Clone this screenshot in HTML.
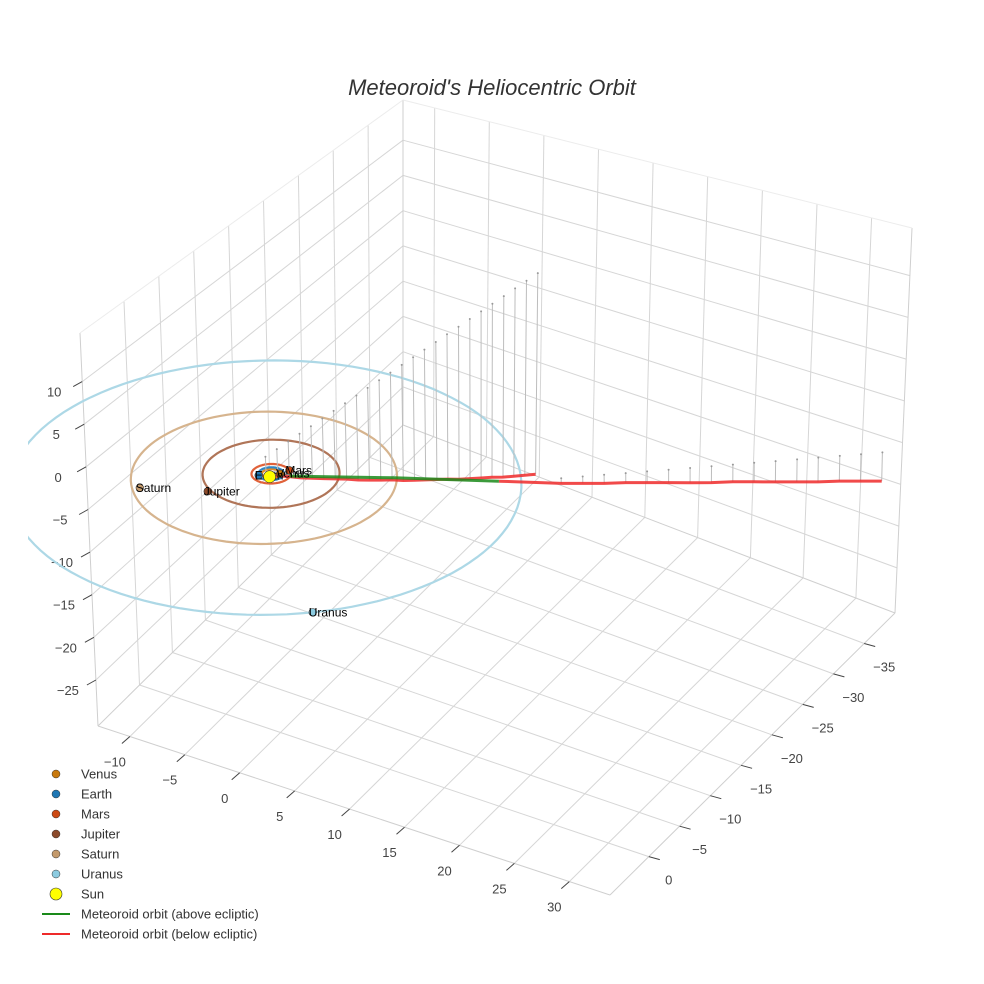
<!DOCTYPE html>
<html><head><meta charset="utf-8">
<style>
html,body{margin:0;padding:0;background:#fff;}
svg{display:block;font-family:"Liberation Sans",sans-serif;}
</style></head>
<body>
<svg id="chart" width="984" height="984" viewBox="0 0 984 984">
  <defs><clipPath id="sceneClip"><rect x="28" y="60" width="950" height="900"/></clipPath></defs>
  <text x="492" y="95" text-anchor="middle" font-size="22" font-style="italic" fill="#333">Meteoroid's Heliocentric Orbit</text>
  <g id="grid"></g>
  <g id="axes"></g>
  <g id="plot" clip-path="url(#sceneClip)"></g>
  <g id="legend"></g>
</svg>
<script>
// ---- axis ranges / ticks ----
const xRange = [-12.9, 33.7];
const yRange = [-40, 6.3];
const zRange = [-30.4, 15.7];
const xTicks = [-10, -5, 0, 5, 10, 15, 20, 25, 30];
const yTicks = [-35, -30, -25, -20, -15, -10, -5, 0];
const zTicks = [-25, -20, -15, -10, -5, 0, 5, 10];

// ---- planets ----
const planetNames = ["Venus", "Earth", "Mars", "Jupiter", "Saturn", "Uranus"];
const planetColors = ["#c8790e", "#1f77b4", "#cc4a14", "#8b4a2b", "#c49a6c", "#8ccbe0"];
const orbitColors = ["#e08a2a", "#2f86c4", "#e0623a", "#b07558", "#d6b48e", "#add8e6"];
const orbitRadii = [0.72, 1.0, 1.52, 5.3, 10.3, 19.8];
const orbitCenterX = [0, 0, 0, 0, -0.14, 0.8];
const orbitCenterY = [0, 0, 0, 0, 0.8, 2.0];
const planetX = [0.6, -0.7, 0.95, -2.8, -7.6, 14.0];
const planetY = [-0.35, 0.7, -1.15, 4.8, 7.0, 16.75];
const planetZ = [0, 0, 0, 0, 0, 0];

// ---- meteoroid (below ecliptic, far branch with drop lines) ----
const farX = [-1.77,-1.64,-1.50,-1.37,-1.23,-1.10,-0.96,-0.83,-0.69,-0.56,-0.42,-0.29,-0.16,-0.02,0.11,0.25,0.38,0.52,0.65,0.79,0.92,1.06,1.19,1.33,1.46];
const farY = [-2.03,-3.49,-4.94,-6.40,-7.86,-9.32,-10.77,-12.23,-13.69,-15.14,-16.60,-18.06,-19.52,-20.97,-22.43,-23.89,-25.34,-26.80,-28.26,-29.71,-31.17,-32.63,-34.08,-35.54,-37.00];
const farZ = [-2.2,-3.2,-4.2,-5.3,-6.3,-7.3,-8.3,-9.3,-10.4,-11.4,-12.4,-13.4,-14.5,-15.5,-16.5,-17.5,-18.5,-19.6,-20.6,-21.6,-22.6,-23.7,-24.7,-25.7,-26.7];
// ---- meteoroid near-ecliptic branch ----
const nearX = [19.86,21.18,22.49,23.81,25.12,26.44,27.76,29.07,30.39,31.70,33.02,34.34,35.65,36.97,38.28,39.60];
const nearY = [-10.72,-11.79,-12.85,-13.92,-14.98,-16.05,-17.11,-18.18,-19.24,-20.31,-21.37,-22.44,-23.50,-24.57,-25.63,-26.70];
const nearZ = [-0.6,-0.8,-1.0,-1.1,-1.3,-1.5,-1.7,-1.9,-2.0,-2.2,-2.4,-2.6,-2.8,-2.9,-3.1,-3.3];
// above-ecliptic segment
const aboveX = [1.5, 8.7, 15.9];
const aboveY = [-0.3, -4.1, -7.9];
const aboveZ = [0.1, 0.15, 0.0];

const NS = "http://www.w3.org/2000/svg";
const Fl = {B:[403,425], R:[895,613], L:[98,726], F:[610,895]};
const Tp = {B:[403,100], R:[912,228], L:[80,333], F:[595,475]};
function bil(Q, tx, s) {
  const wB=(1-tx)*(1-s), wR=tx*(1-s), wL=(1-tx)*s, wF=tx*s;
  return [Q.B[0]*wB+Q.R[0]*wR+Q.L[0]*wL+Q.F[0]*wF, Q.B[1]*wB+Q.R[1]*wR+Q.L[1]*wL+Q.F[1]*wF];
}
function P(x, y, z) {
  const tx=(x-xRange[0])/(xRange[1]-xRange[0]);
  const s=(y-yRange[0])/(yRange[1]-yRange[0]);
  const tz=(z-zRange[0])/(zRange[1]-zRange[0]);
  const a=bil(Fl,tx,s), b=bil(Tp,tx,s);
  return [a[0]*(1-tz)+b[0]*tz, a[1]*(1-tz)+b[1]*tz];
}
function el(tag, attrs, parent) {
  const e=document.createElementNS(NS,tag);
  for (const k in attrs) e.setAttribute(k, attrs[k]);
  parent.appendChild(e); return e;
}
function line(p, q, stroke, w, parent) {
  return el("line",{x1:p[0].toFixed(1),y1:p[1].toFixed(1),x2:q[0].toFixed(1),y2:q[1].toFixed(1),stroke:stroke,"stroke-width":w},parent);
}
const grid=document.getElementById("grid"), axes=document.getElementById("axes");
const plot=document.getElementById("plot"), legend=document.getElementById("legend");
const GC="#d6d6d6";
const [x0,x1]=xRange,[y0,y1]=yRange,[z0,z1]=zRange;

// floor grid
xTicks.forEach(v=>{const l=line(P(v,y0,z0),P(v,y1,z0),GC,1,grid);

});
yTicks.forEach(v=>{const l=line(P(x0,v,z0),P(x1,v,z0),GC,1,grid);

});
// back wall (y = ymin)
xTicks.forEach(v=>{const l=line(P(v,y0,z0),P(v,y0,z1),GC,1,grid);

});
zTicks.forEach(v=>{const l=line(P(x0,y0,v),P(x1,y0,v),GC,1,grid);

});
// left wall (x = xmin)
yTicks.forEach(v=>{const l=line(P(x0,v,z0),P(x0,v,z1),GC,1,grid);

});
zTicks.forEach(v=>{const l=line(P(x0,y0,v),P(x0,y1,v),GC,1,grid);

});
// box edges
[[P(x0,y1,z0),P(x1,y1,z0)],[P(x1,y1,z0),P(x1,y0,z0)],[P(x0,y1,z0),P(x0,y0,z0)],[P(x0,y0,z0),P(x1,y0,z0)],
 [P(x0,y1,z0),P(x0,y1,z1)],[P(x0,y0,z0),P(x0,y0,z1)],[P(x1,y0,z0),P(x1,y0,z1)]].forEach(e=>{
 const l=line(e[0],e[1],"#cfcfcf",1,grid);
 
 });
[[P(x0,y1,z1),P(x0,y0,z1)],[P(x0,y0,z1),P(x1,y0,z1)]].forEach(e=>{
 const l=line(e[0],e[1],"#ececec",1,grid);
 
 });

// ticks + labels
function label(txt,x,y,name){const t=el("text",{x:x.toFixed(1),y:y.toFixed(1),"text-anchor":"middle","font-size":13,fill:"#444"},axes);t.textContent=txt;

return t;}
function fmt(v){return v<0?"\u2212"+Math.abs(v):String(v);}
xTicks.forEach(v=>{const p=P(v,y1,z0);const l=line(p,[p[0]-8,p[1]+7],"#444",1,axes);


label(fmt(v),p[0]-15,p[1]+30,'x-tick-label');});
yTicks.forEach(v=>{const p=P(x1,v,z0);const l=line(p,[p[0]+11,p[1]+3],"#444",1,axes);


label(fmt(v),p[0]+20,p[1]+28,'y-tick-label');});
zTicks.forEach(v=>{const p=P(x0,y1,v);const l=line(p,[p[0]-9,p[1]+5],"#444",1,axes);


label(fmt(v),p[0]-28,p[1]+15,'z-tick-label');});

// orbits
orbitRadii.forEach((r,i)=>{
  let d="";
  for(let k=0;k<=120;k++){const a=k/120*2*Math.PI;const p=P(orbitCenterX[i]+r*Math.cos(a),orbitCenterY[i]+r*Math.sin(a),0);d+=(k?"L":"M")+p[0].toFixed(1)+" "+p[1].toFixed(1);}
  const o=el("path",{d:d,fill:"none",stroke:orbitColors[i],"stroke-width":2.2},plot);
  
  
});

// drop lines
function drops(X,Y,Z,name){
  X.forEach((x,i)=>{
    const top=P(x,Y[i],0), bot=P(x,Y[i],Z[i]);
    const l=line(top,bot,"#bdbdbd",1,plot);
    
    
    const m=el("circle",{cx:top[0].toFixed(1),cy:top[1].toFixed(1),r:1,fill:"#999"},plot);
    
    
  });
}
drops(farX,farY,farZ,'far');
drops(nearX,nearY,nearZ,'near');

function poly(X,Y,Z,color,name){
  const pts=X.map((x,i)=>P(x,Y[i],Z[i]).map(v=>v.toFixed(1)).join(",")).join(" ");
  const p=el("polyline",{points:pts,fill:"none",stroke:color,"stroke-width":3,"stroke-opacity":0.85},plot);
  
  
}
poly(farX,farY,farZ,"#ee2a2a",'meteoroid-below-far');
poly([aboveX[2]].concat(nearX),[aboveY[2]].concat(nearY),[aboveZ[2]].concat(nearZ),"#ee2a2a",'meteoroid-below-near');
poly(aboveX,aboveY,aboveZ,"#1a8a1a",'meteoroid-above');

// planets
planetNames.forEach((n,i)=>{
  const p=P(planetX[i],planetY[i],planetZ[i]);
  const c=el("circle",{cx:p[0].toFixed(1),cy:p[1].toFixed(1),r:3.8,fill:planetColors[i],stroke:"#333","stroke-width":0.6},plot);
  
  
  const t=el("text",{x:(p[0]-4).toFixed(1),y:(p[1]+4).toFixed(1),"font-size":12,fill:"#000"},plot);
  t.textContent=n;
  
  
});
const sp=P(0,0,0);
const sun=el("circle",{cx:(sp[0]-1.5).toFixed(1),cy:(sp[1]+3).toFixed(1),r:6,fill:"#ffff00",stroke:"#333","stroke-width":0.6},plot);



// legend
const legNames = planetNames.concat(["Sun","Meteoroid orbit (above ecliptic)","Meteoroid orbit (below ecliptic)"]);
legNames.forEach((n,i)=>{
  const y=774+i*20;
  const g=el("g",{},legend);
  
  
  if(i<6) el("circle",{cx:56,cy:y,r:4,fill:planetColors[i],stroke:"#333","stroke-width":0.5},g);
  else if(i===6) el("circle",{cx:56,cy:y,r:6,fill:"#ffff00",stroke:"#333","stroke-width":0.6},g);
  else el("line",{x1:42,y1:y,x2:70,y2:y,stroke:i===7?"#1a8a1a":"#ee2a2a","stroke-width":2},g);
  const t=el("text",{x:81,y:y+4.5,"font-size":13,fill:"#333"},g);
  t.textContent=n;
});
</script>
</body></html>
